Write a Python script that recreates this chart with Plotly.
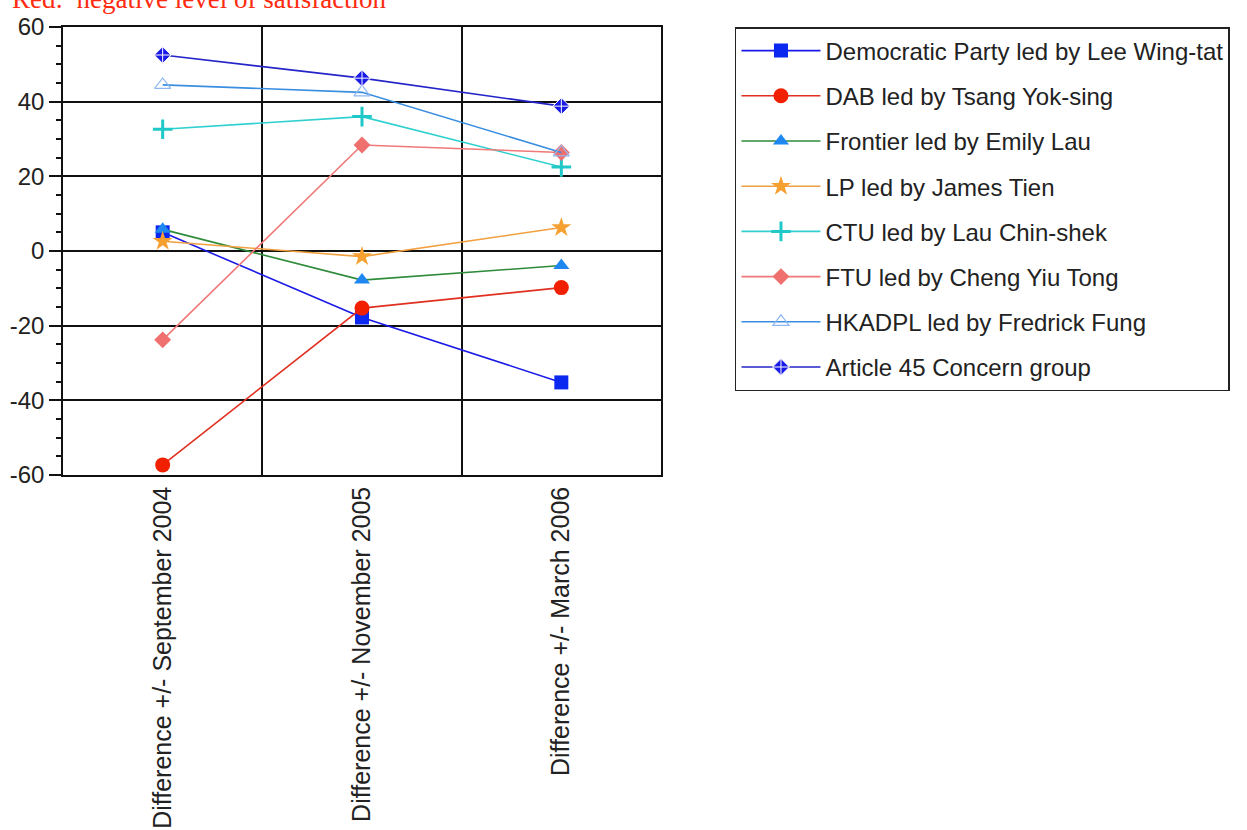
import plotly.graph_objects as go

categories = ["Difference +/- September 2004", "Difference +/- November 2005", "Difference +/- March 2006"]

series_names = [
    "Democratic Party led by Lee Wing-tat",
    "DAB led by Tsang Yok-sing",
    "Frontier led by Emily Lau",
    "LP led by James Tien",
    "CTU led by Lau Chin-shek",
    "FTU led by Cheng Yiu Tong",
    "HKADPL led by Fredrick Fung",
    "Article 45 Concern group",
]

dp_values = [5.0, -17.8, -35.2]
dab_values = [-57.3, -15.3, -9.8]
frontier_values = [5.8, -7.8, -3.9]
lp_values = [2.6, -1.5, 6.3]
ctu_values = [32.6, 36.0, 22.5]
ftu_values = [-23.8, 28.4, 26.4]
hkadpl_values = [44.5, 42.5, 26.4]
a45_values = [52.5, 46.3, 38.8]

y_tick_values = [-60, -40, -20, 0, 20, 40, 60]
y_tick_labels = ["-60", "-40", "-20", "0", "20", "40", "60"]

all_values = [dp_values, dab_values, frontier_values, lp_values,
              ctu_values, ftu_values, hkadpl_values, a45_values]

styles = [
    dict(line="#1a1ae6", symbol="square", mcolor="#0a28f0", size=14, mline=dict(width=0)),
    dict(line="#e03020", symbol="circle", mcolor="#f02000", size=15, mline=dict(width=0)),
    dict(line="#2e8b3a", symbol="triangle-up", mcolor="#1e88f0", size=14, mline=dict(width=0)),
    dict(line="#f0a040", symbol="star", mcolor="#f5a030", size=15, mline=dict(width=0)),
    dict(line="#30d0d0", symbol="cross-thin", mcolor="#20c8c8", size=14, mline=dict(width=3, color="#20c8c8")),
    dict(line="#f07878", symbol="diamond", mcolor="#f07070", size=13, mline=dict(width=0)),
    dict(line="#3a8ee0", symbol="triangle-up-open", mcolor="#90b8f0", size=14, mline=dict(width=1.2, color="#90b8f0")),
    dict(line="#2424c8", symbol="diamond-cross", mcolor="#1a1ae6", size=13, mline=dict(width=1, color="#ffffff")),
]

fig = go.Figure()
for i, (name, vals, st) in enumerate(zip(series_names, all_values, styles)):
    fig.add_trace(go.Scatter(
        x=categories, y=vals, name=name, mode="lines+markers",
        legendgroup=f"g{i}",
        line=dict(color=st["line"], width=1.6),
        marker=dict(symbol=st["symbol"], color=st["mcolor"], size=st["size"], line=st["mline"]),
    ))

fig.update_layout(
    width=1247, height=830,
    margin=dict(l=63, r=586, t=27, b=355),
    paper_bgcolor="white", plot_bgcolor="white",
    font=dict(family="Liberation Sans, Arial, sans-serif", size=20, color="#222222"),
    showlegend=True,
    legend=dict(
        x=1.1237, y=1.0, xanchor="left", yanchor="top",
        bordercolor="#222222", borderwidth=1.5, bgcolor="white",
        font=dict(size=24, color="#222222"),
        traceorder="grouped", tracegroupgap=11, itemwidth=79,
        entrywidth=440, entrywidthmode="pixels",
    ),
    annotations=[dict(
        text="Red:  negative level of satisfaction", xref="paper", yref="paper",
        x=-0.0886, y=1.0246, xanchor="left", yanchor="bottom", showarrow=False,
        font=dict(family="Liberation Serif, Times New Roman, serif", size=27, color="#ff2a10"),
    )],
)

fig.update_xaxes(
    type="category", range=[-0.5, 2.5], tickson="boundaries", automargin=False,
    showgrid=True, gridcolor="#111111", gridwidth=1.5,
    showline=True, linecolor="#111111", linewidth=1.5, mirror=True,
    ticks="", tickangle=-90, tickfont=dict(size=25),
)
fig.update_yaxes(
    range=[-60, 60], tickvals=y_tick_values, ticktext=y_tick_labels, automargin=False,
    showgrid=True, gridcolor="#111111", gridwidth=1.5, zeroline=False,
    showline=True, linecolor="#111111", linewidth=1.5, mirror=True,
    ticks="outside", ticklen=12, tickwidth=1.5, tickcolor="#111111",
    minor=dict(dtick=5, ticks="outside", ticklen=5, tickwidth=1.5, tickcolor="#111111", showgrid=False),
    tickfont=dict(size=24),
)

fig.write_html(
    "out.html",
    config={"displayModeBar": False},
    post_script="document.body.style.margin='0';document.body.style.padding='0';",
)
